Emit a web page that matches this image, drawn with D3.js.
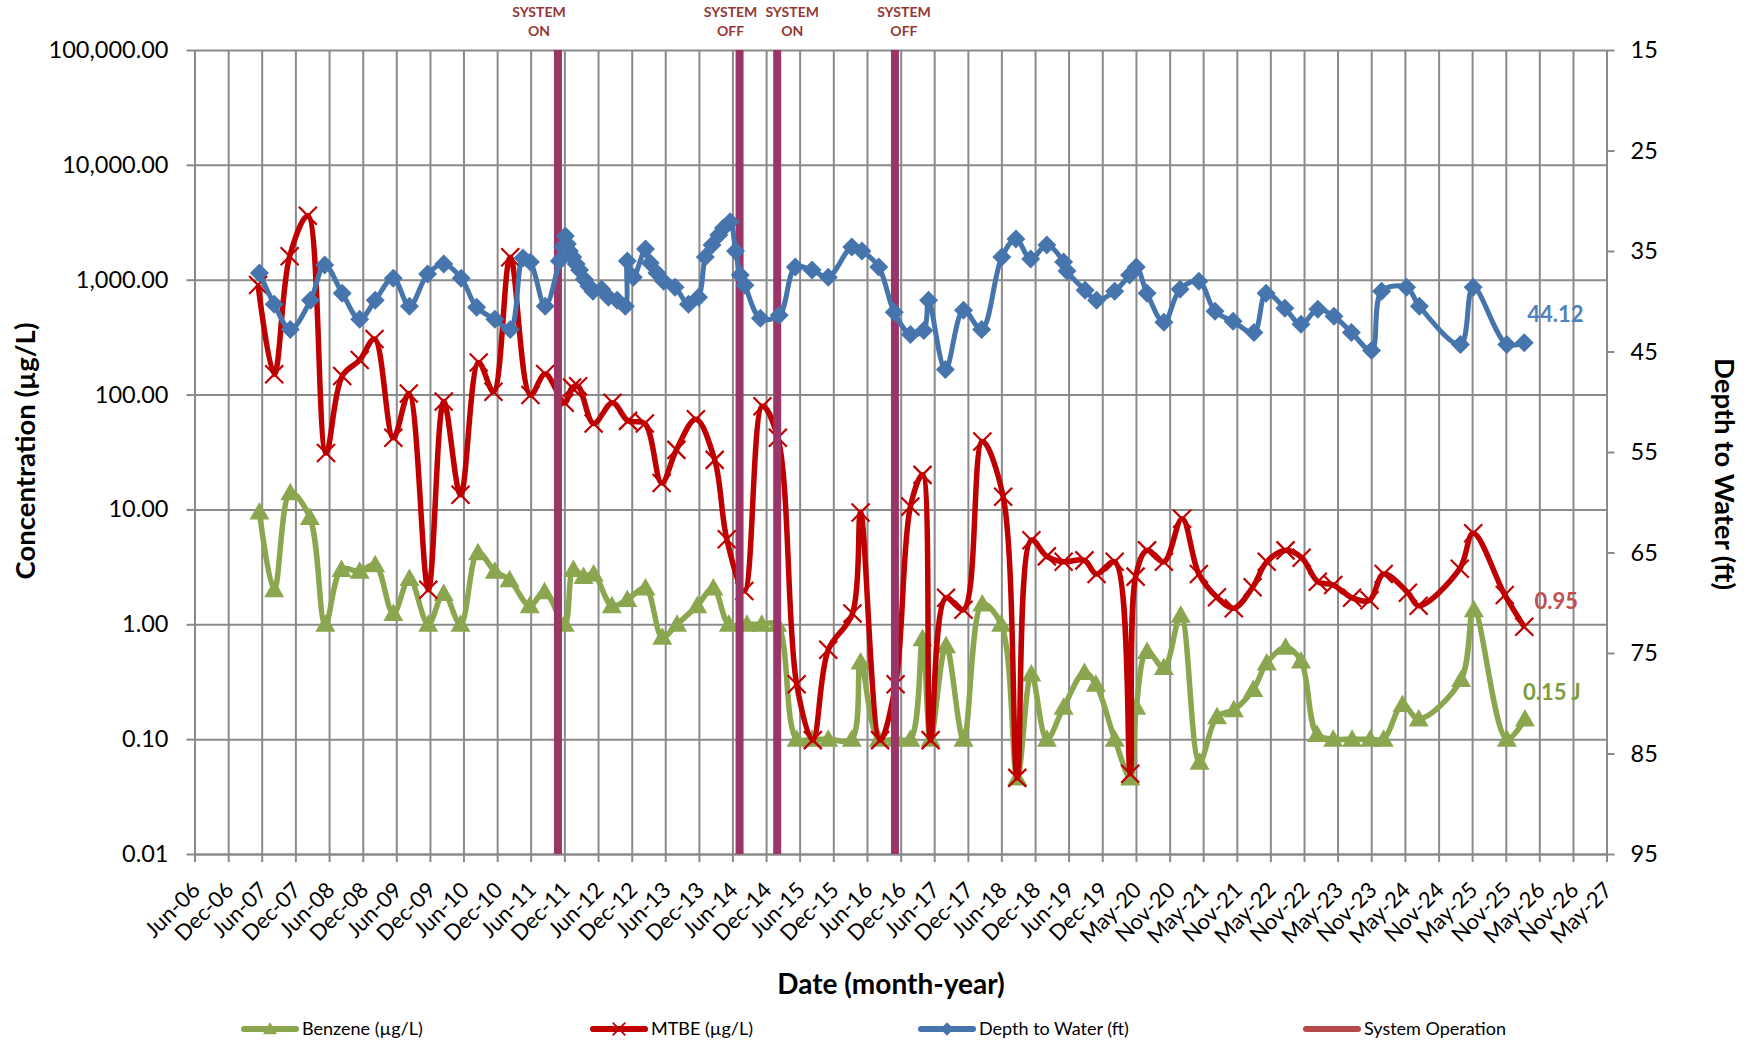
<!DOCTYPE html>
<html><head><meta charset="utf-8">
<script src="https://cdn.jsdelivr.net/npm/d3@7"></script>
<style>
body{margin:0;background:#fff}
svg{display:block}
text{font-family:Lato,"Open Sans",sans-serif}
</style>
</head><body>
<svg id="c" width="1753" height="1042"></svg>
<script>
// ---------------- DATA ----------------
const tickLabels = ["Jun-06","Dec-06","Jun-07","Dec-07","Jun-08","Dec-08","Jun-09","Dec-09","Jun-10","Dec-10",
  "Jun-11","Dec-11","Jun-12","Dec-12","Jun-13","Dec-13","Jun-14","Dec-14","Jun-15","Dec-15","Jun-16","Dec-16",
  "Jun-17","Dec-17","Jun-18","Dec-18","Jun-19","Dec-19","May-20","Nov-20","May-21","Nov-21","May-22","Nov-22",
  "May-23","Nov-23","May-24","Nov-24","May-25","Nov-25","May-26","Nov-26","May-27"];
const concTicks = [0.01,0.1,1,10,100,1000,10000,100000];
const depthTicks = [15,25,35,45,55,65,75,85,95];

// decimal-year sample dates and values
const benzeneDates = [2007.38,2007.60,2007.84,2008.13,2008.36,2008.60,2008.87,2009.10,2009.37,2009.61,2009.89,2010.12,
  2010.37,2010.63,2010.88,2011.10,2011.40,2011.62,2011.92,2012.05,2012.20,2012.35,2012.62,2012.85,2013.12,2013.37,
  2013.59,2013.89,2014.13,2014.36,2014.63,2014.85,2015.08,2015.37,2015.60,2015.84,2016.19,2016.32,2016.59,2016.84,
  2017.06,2017.24,2017.36,2017.59,2017.85,2018.13,2018.41,2018.65,2018.86,2019.09,2019.34,2019.65,2019.82,2020.10,
  2020.33,2020.42,2020.58,2020.83,2021.08,2021.36,2021.62,2021.87,2022.16,2022.36,2022.64,2022.87,2023.11,2023.35,
  2023.63,2023.90,2024.10,2024.38,2024.62,2025.25,2025.44,2025.93,2026.20];
const benzeneValues = [9.5,2.0,14,8.5,1.0,3.0,2.9,3.3,1.24,2.5,1.0,1.85,
  1.0,4.2,2.9,2.44,1.45,1.92,1.0,3.0,2.6,2.74,1.45,1.64,2.07,0.77,
  1.0,1.45,2.07,1.0,1.0,1.0,1.0,0.1,0.1,0.1,0.1,0.47,0.1,0.1,
  0.1,0.75,0.1,0.65,0.1,1.5,1.0,0.046,0.37,0.1,0.19,0.38,0.3,0.1,
  0.046,0.19,0.58,0.42,1.2,0.063,0.157,0.18,0.27,0.46,0.63,0.48,0.11,0.1,
  0.1,0.1,0.1,0.2,0.15,0.33,1.34,0.1,0.15];

const mtbeDates = [2007.36,2007.60,2007.83,2008.10,2008.37,2008.61,2008.87,2009.09,2009.37,2009.60,2009.89,2010.12,
  2010.37,2010.64,2010.86,2011.11,2011.41,2011.63,2011.92,2012.03,2012.12,2012.35,2012.63,2012.86,2013.11,2013.36,
  2013.58,2013.87,2014.15,2014.33,2014.59,2014.86,2015.09,2015.37,2015.61,2015.84,2016.20,2016.32,2016.61,2016.84,
  2017.06,2017.24,2017.36,2017.59,2017.85,2018.13,2018.44,2018.65,2018.86,2019.09,2019.34,2019.65,2019.83,2020.10,
  2020.33,2020.41,2020.58,2020.83,2021.10,2021.35,2021.62,2021.87,2022.15,2022.36,2022.64,2022.88,2023.12,2023.35,
  2023.63,2023.89,2024.10,2024.46,2024.62,2025.23,2025.43,2025.90,2026.19];
const mtbeValues = [900,150,1600,3600,31,145,200,305,42,102,2.0,87,
  13.4,190,106,1570,99,151,85,115,118,56,85,59,56,17,
  33,61,27,5.5,1.95,79,42,0.30,0.098,0.6,1.24,9.4,0.098,0.30,
  10.6,20,0.098,1.7,1.34,39,12.9,0.046,5.4,3.9,3.5,3.6,2.74,3.5,
  0.05,2.6,4.4,3.5,8.3,2.74,1.72,1.38,2.1,3.5,4.4,3.8,2.35,2.2,
  1.7,1.62,2.74,1.88,1.45,3.05,6.2,1.8,0.95];

const dtwDates = [2007.38,2007.60,2007.84,2008.14,2008.35,2008.61,2008.87,2009.10,2009.37,2009.61,2009.88,2010.12,
  2010.38,2010.61,2010.88,2011.11,2011.30,2011.41,2011.63,2011.84,2011.89,2011.93,2011.96,2011.99,2012.04,2012.09,
  2012.14,2012.21,2012.28,2012.34,2012.47,2012.57,2012.70,2012.82,2012.85,2012.94,2013.12,2013.19,2013.29,2013.39,
  2013.56,2013.76,2013.91,2014.01,2014.11,2014.21,2014.28,2014.38,2014.46,2014.53,2014.60,2014.83,2015.11,2015.35,
  2015.60,2015.84,2016.19,2016.34,2016.59,2016.82,2017.06,2017.26,2017.33,2017.58,2017.85,2018.12,2018.42,2018.63,
  2018.85,2019.09,2019.34,2019.39,2019.66,2019.83,2020.10,2020.32,2020.42,2020.58,2020.83,2021.07,2021.35,2021.59,
  2021.86,2022.17,2022.35,2022.63,2022.87,2023.12,2023.36,2023.62,2023.92,2024.07,2024.44,2024.63,2025.24,2025.43,
  2025.93,2026.19];
const dtwValues = [37.2,40.3,42.8,39.9,36.4,39.2,41.8,39.9,37.7,40.5,37.3,36.3,
  37.7,40.6,41.8,42.8,35.7,36.1,40.5,36.0,34.6,33.5,34.3,35.0,35.6,36.3,
  36.9,37.8,38.5,39.0,38.8,39.6,39.9,40.5,36.0,37.6,34.8,36.2,37.2,38.0,
  38.6,40.3,39.6,35.6,34.4,33.4,32.7,32.1,35.0,37.4,38.4,41.7,41.4,36.6,
  36.9,37.6,34.6,35.0,36.6,41.1,43.3,42.9,39.9,46.8,40.9,42.8,35.6,33.8,
  35.8,34.4,36.1,37.0,38.9,39.9,39.0,37.4,36.6,39.2,42.1,38.8,38.0,41.0,
  42.0,43.1,39.2,40.7,42.3,40.8,41.5,43.1,44.9,39.0,38.6,40.5,44.3,38.6,
  44.3,44.12];

const systemDates = [2011.82, 2014.52, 2015.08, 2016.83];
const systemLabels = [["SYSTEM","ON"],["SYSTEM","OFF"],["SYSTEM","ON"],["SYSTEM","OFF"]];
const seriesNames = ["Benzene (µg/L)","MTBE (µg/L)","Depth to Water (ft)","System Operation"];
const endLabels = ["0.15 J","0.95","44.12"];

// ---------------- CHART ----------------
const svg = d3.select("#c");
const L = 194.5, R = 1606.5, T = 50, B = 854;
const toDate = yd => { const yr = Math.floor(yd); const a = Date.UTC(yr,0,1), b = Date.UTC(yr+1,0,1); return new Date(a + (yd-yr)*(b-a)); };
const x = d3.scaleUtc().domain([new Date(Date.UTC(2006,5,1)), new Date(Date.UTC(2027,5,1))]).range([L,R]);
const y = d3.scaleLog().domain([0.01,100000]).range([B,T]);
const y2 = d3.scaleLinear().domain([15,95]).range([T,B]);
const tickDates = tickLabels.map((_,i)=>d3.utcMonth.offset(x.domain()[0], 6*i));
const grid = "#8a8a8a";
const C = {benz:"#8AA64F", mtbe:"#C00000", dtw:"#4674AC", sys:"#9B3467", sysLeg:"#B54A4A"};

// grid
svg.append("g").attr("transform",`translate(${L},0)`)
  .call(d3.axisLeft(y).tickValues(concTicks).tickSize(-(R-L)).tickFormat(""))
  .call(g=>g.select(".domain").remove())
  .call(g=>g.selectAll("line").attr("stroke",grid).attr("stroke-width",2));
svg.append("g").attr("transform",`translate(0,${T})`)
  .call(d3.axisTop(x).tickValues(tickDates).tickSize(-(B-T)).tickFormat(""))
  .call(g=>g.select(".domain").remove())
  .call(g=>g.selectAll("line").attr("stroke",grid).attr("stroke-width",2));

// axes
const styleAxis = g => { g.select(".domain").attr("stroke",grid).attr("stroke-width",2);
  g.selectAll(".tick line").attr("stroke",grid).attr("stroke-width",2);
  g.selectAll("text").attr("fill","#000").style("font-family","Lato"); };
svg.append("g").attr("transform",`translate(${L},0)`)
  .call(d3.axisLeft(y).tickValues(concTicks).tickSize(8).tickSizeOuter(0).tickPadding(18).tickFormat(d3.format(",.2f")))
  .call(styleAxis).call(g=>g.selectAll("text").attr("font-size",23.5));
svg.append("g").attr("transform",`translate(${R},0)`)
  .call(d3.axisRight(y2).tickValues(depthTicks).tickSize(8).tickSizeOuter(0).tickPadding(16))
  .call(styleAxis).call(g=>g.selectAll("text").attr("font-size",23.5));
svg.append("g").attr("transform",`translate(0,${B})`)
  .call(d3.axisBottom(x).tickValues(tickDates).tickSize(8).tickSizeOuter(0).tickFormat((d,i)=>tickLabels[i]))
  .call(styleAxis)
  .call(g=>g.selectAll("text").attr("font-size",22).attr("text-anchor","end")
     .attr("x",0).attr("y",0).attr("dy","0.35em").attr("transform","translate(1,32) rotate(-45)"));

// titles
svg.append("text").attr("transform","translate(25,451) rotate(-90)").attr("text-anchor","middle").attr("dy","0.35em")
  .attr("font-size",27.5).attr("font-weight","bold").text("Concentration (µg/L)");
svg.append("text").attr("transform","translate(1725,474) rotate(90)").attr("text-anchor","middle").attr("dy","0.35em")
  .attr("font-size",27.5).attr("font-weight","bold").text("Depth to Water (ft)");
svg.append("text").attr("x",891).attr("y",984).attr("text-anchor","middle").attr("dy","0.35em")
  .attr("font-size",28).attr("font-weight","bold").text("Date (month-year)");

// series helpers
const zip = (ds,vs)=>ds.map((d,i)=>({date:toDate(d), v:vs[i]}));
const benz = zip(benzeneDates, benzeneValues);
const mtbe = zip(mtbeDates, mtbeValues);
const dtw = zip(dtwDates, dtwValues);
const curve = d3.curveCatmullRom.alpha(0.5);
const lineC = d3.line().x(d=>x(d.date)).y(d=>y(d.v)).curve(curve);
const lineD = d3.line().x(d=>x(d.date)).y(d=>y2(d.v)).curve(curve);
const tri = "M0,-10L10,7.5L-10,7.5Z", dia = "M0,-9.5L9.5,0L0,9.5L-9.5,0Z", cross = "M-9,-9L9,9M9,-9L-9,9";

// Benzene
svg.append("path").datum(benz).attr("d",lineC).attr("fill","none").attr("stroke",C.benz).attr("stroke-width",5.5).attr("stroke-linejoin","round");
svg.append("g").selectAll("path").data(benz).join("path").attr("d",tri)
  .attr("transform",d=>`translate(${x(d.date)},${y(d.v)})`).attr("fill",C.benz);
// MTBE
svg.append("path").datum(mtbe).attr("d",lineC).attr("fill","none").attr("stroke",C.mtbe).attr("stroke-width",5.5).attr("stroke-linejoin","round");
svg.append("g").selectAll("path").data(mtbe).join("path").attr("d",cross)
  .attr("transform",d=>`translate(${x(d.date)},${y(d.v)})`).attr("fill","none").attr("stroke",C.mtbe).attr("stroke-width",2.2);
// System operation bars
svg.append("g").selectAll("line").data(systemDates).join("line")
  .attr("x1",d=>x(toDate(d))).attr("x2",d=>x(toDate(d))).attr("y1",y2(15)).attr("y2",y2(95))
  .attr("stroke",C.sys).attr("stroke-width",8);
const sysDx = [-19,-9,15,9];
systemDates.forEach((d,i)=>{
  const t = svg.append("text").attr("x",x(toDate(d))+sysDx[i]).attr("text-anchor","middle")
    .attr("font-size",14).attr("font-weight","bold").attr("fill","#953735");
  t.append("tspan").attr("x",x(toDate(d))+sysDx[i]).attr("y",17).text(systemLabels[i][0]);
  t.append("tspan").attr("x",x(toDate(d))+sysDx[i]).attr("y",36).text(systemLabels[i][1]);
});
// Depth to water
svg.append("path").datum(dtw).attr("d",lineD).attr("fill","none").attr("stroke",C.dtw).attr("stroke-width",5).attr("stroke-linejoin","round");
svg.append("g").selectAll("path").data(dtw).join("path").attr("d",dia)
  .attr("transform",d=>`translate(${x(d.date)},${y2(d.v)})`).attr("fill",C.dtw);

// end labels
const lastB = benz[benz.length-1], lastM = mtbe[mtbe.length-1], lastD = dtw[dtw.length-1];
svg.append("text").attr("x",x(lastB.date)+27).attr("y",y(lastB.v)-27).attr("text-anchor","middle").attr("dy","0.35em")
  .attr("font-size",22).attr("font-weight","bold").attr("fill","#7E9C3C").text(endLabels[0]);
svg.append("text").attr("x",x(lastM.date)+32).attr("y",y(lastM.v)-26).attr("text-anchor","middle").attr("dy","0.35em")
  .attr("font-size",22).attr("font-weight","bold").attr("fill","#C0504D").text(endLabels[1]);
svg.append("text").attr("x",x(lastD.date)+31).attr("y",y2(lastD.v)-28).attr("text-anchor","middle").attr("dy","0.35em")
  .attr("font-size",22).attr("font-weight","bold").attr("fill","#4F81BD").text(endLabels[2]);

// legend
const legX = [244, 593, 921, 1306];
const legColors = [C.benz, C.mtbe, C.dtw, C.sysLeg];
const legMarks = [tri, cross, dia, null];
const ly = 1029;
seriesNames.forEach((name,i)=>{
  const g = svg.append("g").attr("transform",`translate(${legX[i]},${ly})`);
  g.append("line").attr("x1",0).attr("x2",52).attr("stroke",legColors[i]).attr("stroke-width",6).attr("stroke-linecap","round");
  if (legMarks[i]) {
    const m = g.append("path").attr("d",legMarks[i]).attr("transform","translate(26,0) scale(0.7)");
    if (i===1) m.attr("fill","none").attr("stroke",legColors[i]).attr("stroke-width",2.5); else m.attr("fill",legColors[i]);
  }
  g.append("text").attr("x",58).attr("dy","0.35em").attr("font-size",18).text(name);
});
</script>
</body></html>
